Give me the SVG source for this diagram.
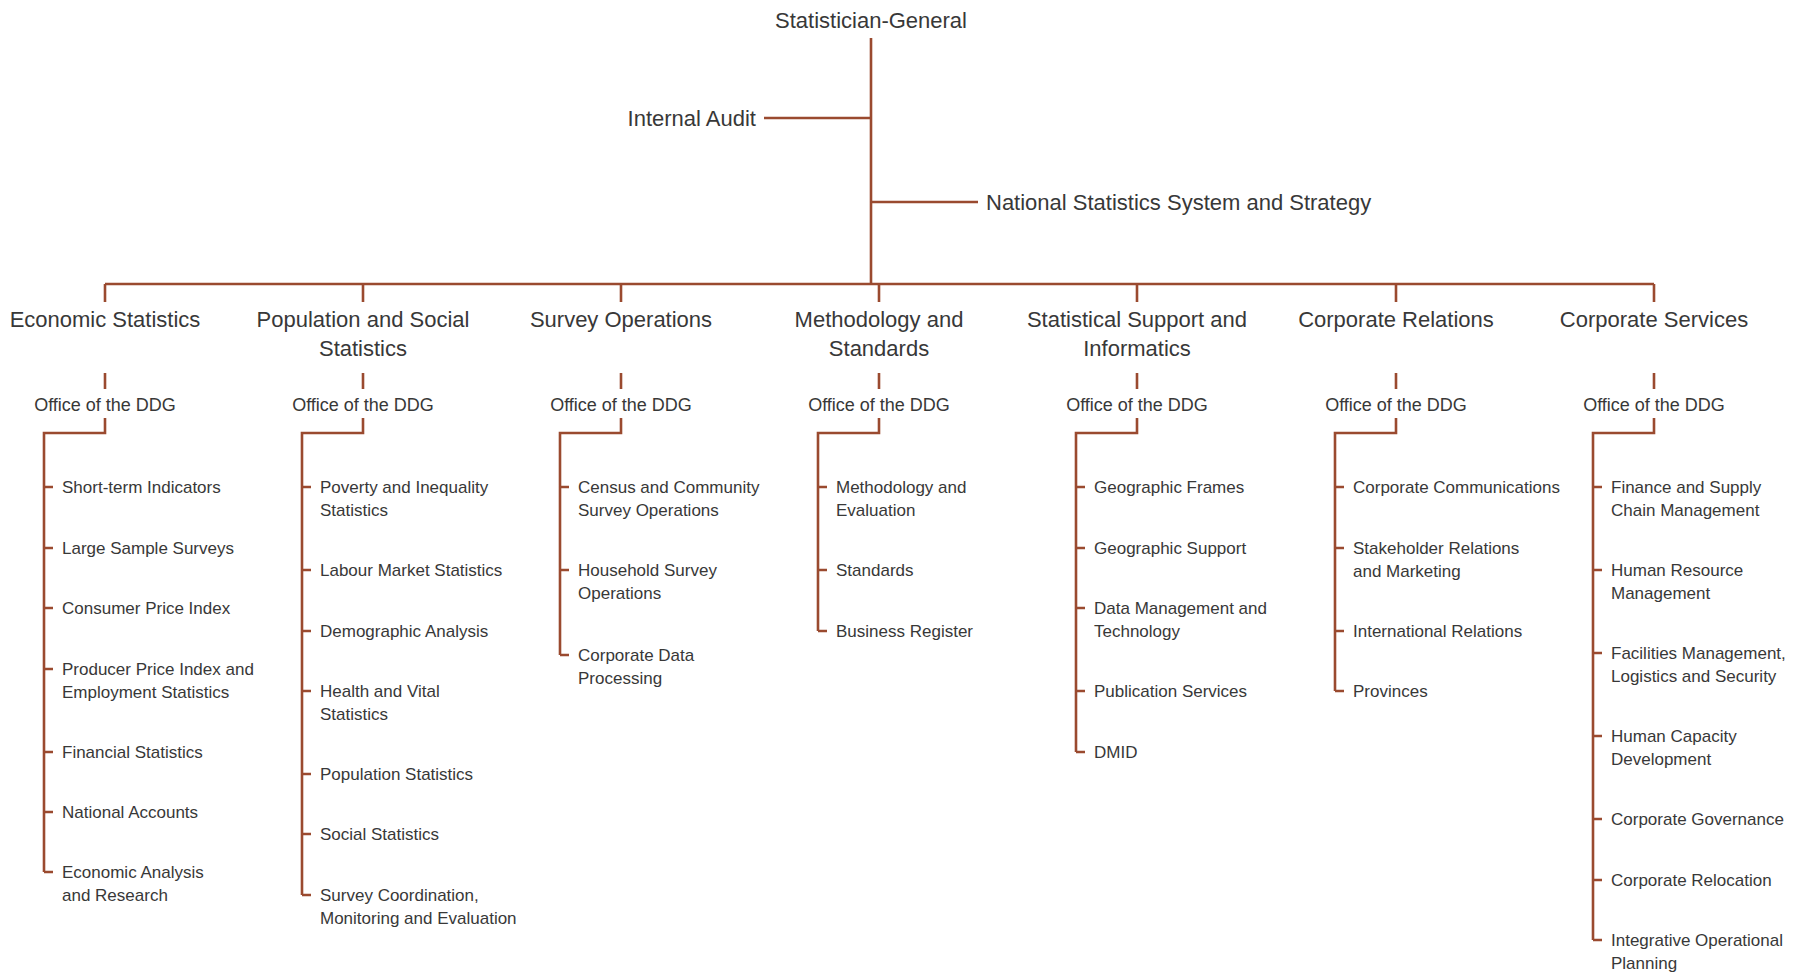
<svg xmlns="http://www.w3.org/2000/svg" width="1809" height="973" viewBox="0 0 1809 973">
<style>
.ln{fill:none;stroke:#9a4a2f;stroke-width:2.6;stroke-linecap:butt;stroke-linejoin:miter}
text{font-family:"Liberation Sans",Arial,sans-serif;fill:#383838}
.top{font-size:22px}
.hd{font-size:22px;text-anchor:middle}
.off{font-size:18px;text-anchor:middle}
.it{font-size:17px}
</style>
<rect width="1809" height="973" fill="#ffffff"/>
<g id="connectors">
<path class="ln" d="M871 38V284M764 118H871M871 202H978M105 284H1654"/>
<path class="ln" d="M105 284V302M363 284V302M621 284V302M879 284V302M1137 284V302M1396 284V302M1654 284V302"/>
<path class="ln" d="M105 373V389M363 373V389M621 373V389M879 373V389M1137 373V389M1396 373V389M1654 373V389"/>
<path class="ln" d="M105 418V433H44V872M44 487H53M44 548H53M44 608H53M44 669H53M44 752H53M44 812H53M44 872H53"/>
<path class="ln" d="M363 418V433H302V895M302 487H311M302 570H311M302 631H311M302 691H311M302 774H311M302 834H311M302 895H311"/>
<path class="ln" d="M621 418V433H560V655M560 487H569M560 570H569M560 655H569"/>
<path class="ln" d="M879 418V433H818V631M818 487H827M818 570H827M818 631H827"/>
<path class="ln" d="M1137 418V433H1076V752M1076 487H1085M1076 548H1085M1076 608H1085M1076 691H1085M1076 752H1085"/>
<path class="ln" d="M1396 418V433H1335V691M1335 487H1344M1335 548H1344M1335 631H1344M1335 691H1344"/>
<path class="ln" d="M1654 418V433H1593V940M1593 487H1602M1593 570H1602M1593 653H1602M1593 736H1602M1593 819H1602M1593 880H1602M1593 940H1602"/>
</g>
<g id="statistician-general"><text class="top" x="871" y="28" text-anchor="middle">Statistician-General</text></g>
<g id="internal-audit"><text class="top" x="756" y="126" text-anchor="end">Internal Audit</text></g>
<g id="nss"><text class="top" x="986" y="210">National Statistics System and Strategy</text></g>

<g id="economic-statistics">
<text class="hd" x="105" y="327">Economic Statistics</text>
<text class="off" x="105" y="411">Office of the DDG</text>
<text class="it" x="62" y="493">Short-term Indicators</text>
<text class="it" x="62" y="554">Large Sample Surveys</text>
<text class="it" x="62" y="614">Consumer Price Index</text>
<text class="it" x="62" y="675">Producer Price Index and<tspan x="62" dy="22.5">Employment Statistics</tspan></text>
<text class="it" x="62" y="758">Financial Statistics</text>
<text class="it" x="62" y="818">National Accounts</text>
<text class="it" x="62" y="878">Economic Analysis<tspan x="62" dy="22.5">and Research</tspan></text>
</g>

<g id="population-social">
<text class="hd" x="363" y="327">Population and Social<tspan x="363" dy="29">Statistics</tspan></text>
<text class="off" x="363" y="411">Office of the DDG</text>
<text class="it" x="320" y="493">Poverty and Inequality<tspan x="320" dy="22.5">Statistics</tspan></text>
<text class="it" x="320" y="576">Labour Market Statistics</text>
<text class="it" x="320" y="637">Demographic Analysis</text>
<text class="it" x="320" y="697">Health and Vital<tspan x="320" dy="22.5">Statistics</tspan></text>
<text class="it" x="320" y="780">Population Statistics</text>
<text class="it" x="320" y="840">Social Statistics</text>
<text class="it" x="320" y="901">Survey Coordination,<tspan x="320" dy="22.5">Monitoring and Evaluation</tspan></text>
</g>

<g id="survey-operations">
<text class="hd" x="621" y="327">Survey Operations</text>
<text class="off" x="621" y="411">Office of the DDG</text>
<text class="it" x="578" y="493">Census and Community<tspan x="578" dy="22.5">Survey Operations</tspan></text>
<text class="it" x="578" y="576">Household Survey<tspan x="578" dy="22.5">Operations</tspan></text>
<text class="it" x="578" y="661">Corporate Data<tspan x="578" dy="22.5">Processing</tspan></text>
</g>

<g id="methodology-standards">
<text class="hd" x="879" y="327">Methodology and<tspan x="879" dy="29">Standards</tspan></text>
<text class="off" x="879" y="411">Office of the DDG</text>
<text class="it" x="836" y="493">Methodology and<tspan x="836" dy="22.5">Evaluation</tspan></text>
<text class="it" x="836" y="576">Standards</text>
<text class="it" x="836" y="637">Business Register</text>
</g>

<g id="statistical-support">
<text class="hd" x="1137" y="327">Statistical Support and<tspan x="1137" dy="29">Informatics</tspan></text>
<text class="off" x="1137" y="411">Office of the DDG</text>
<text class="it" x="1094" y="493">Geographic Frames</text>
<text class="it" x="1094" y="554">Geographic Support</text>
<text class="it" x="1094" y="614">Data Management and<tspan x="1094" dy="22.5">Technology</tspan></text>
<text class="it" x="1094" y="697">Publication Services</text>
<text class="it" x="1094" y="758">DMID</text>
</g>

<g id="corporate-relations">
<text class="hd" x="1396" y="327">Corporate Relations</text>
<text class="off" x="1396" y="411">Office of the DDG</text>
<text class="it" x="1353" y="493">Corporate Communications</text>
<text class="it" x="1353" y="554">Stakeholder Relations<tspan x="1353" dy="22.5">and Marketing</tspan></text>
<text class="it" x="1353" y="637">International Relations</text>
<text class="it" x="1353" y="697">Provinces</text>
</g>

<g id="corporate-services">
<text class="hd" x="1654" y="327">Corporate Services</text>
<text class="off" x="1654" y="411">Office of the DDG</text>
<text class="it" x="1611" y="493">Finance and Supply<tspan x="1611" dy="22.5">Chain Management</tspan></text>
<text class="it" x="1611" y="576">Human Resource<tspan x="1611" dy="22.5">Management</tspan></text>
<text class="it" x="1611" y="659">Facilities Management,<tspan x="1611" dy="22.5">Logistics and Security</tspan></text>
<text class="it" x="1611" y="742">Human Capacity<tspan x="1611" dy="22.5">Development</tspan></text>
<text class="it" x="1611" y="825">Corporate Governance</text>
<text class="it" x="1611" y="886">Corporate Relocation</text>
<text class="it" x="1611" y="946">Integrative Operational<tspan x="1611" dy="22.5">Planning</tspan></text>
</g>
</svg>
